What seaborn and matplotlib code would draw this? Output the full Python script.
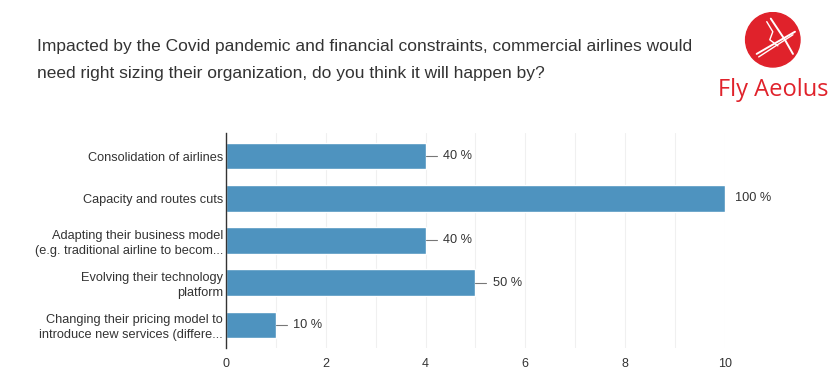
import numpy as np
import pandas as pd
import matplotlib.pyplot as plt
import seaborn as sns
from matplotlib.patches import Circle

categories = [
    "Consolidation of airlines",
    "Capacity and routes cuts",
    "Adapting their business model\n(e.g. traditional airline to becom...",
    "Evolving their technology\nplatform",
    "Changing their pricing model to\nintroduce new services (differe...",
]
counts = [4, 10, 4, 5, 1]
percents = [40, 100, 40, 50, 10]

title = ("Impacted by the Covid pandemic and financial constraints, commercial airlines would\n"
         "need right sizing their organization, do you think it will happen by?")

sns.set_theme(style="white")
plt.rcParams["font.family"] = ["Liberation Sans", "DejaVu Sans"]

df = pd.DataFrame({"option": categories, "count": counts})

fig = plt.figure(figsize=(8.4, 3.79), dpi=100)
ax = fig.add_axes([0.269, 0.082, 0.594, 0.567])

sns.barplot(data=df, x="count", y="option", color="#4E93BF", saturation=1,
            width=0.63, ax=ax, zorder=3)

ax.set_xlim(0, 10)
ax.set_xticks(range(0, 11, 2))
ax.set_xticks(range(0, 11), minor=True)
ax.grid(axis="x", which="both", color="#f0f0f0", linewidth=0.8, zorder=0)
ax.set_xlabel("")
ax.set_ylabel("")
for side in ["top", "right", "bottom"]:
    ax.spines[side].set_visible(False)
ax.spines["left"].set_color("#333333")
ax.spines["left"].set_linewidth(1.0)
ax.spines["left"].set_zorder(5)
ax.tick_params(axis="both", which="both", length=0, labelsize=9, colors="#333333")
ax.tick_params(axis="x", pad=7)
ax.tick_params(axis="y", pad=2)
for lab in ax.get_yticklabels():
    lab.set_multialignment("right")
    lab.set_linespacing(1.3)
    lab.set_fontsize(9.2)

for i, (c, p) in enumerate(zip(counts, percents)):
    if c < 10:
        ax.plot([c, c + 0.22], [i, i], color="#777777", linewidth=0.8,
                clip_on=False, zorder=4)
        ax.text(c + 0.35, i, f"{p} %", va="center", ha="left", fontsize=9.2,
                color="#333333")
    else:
        ax.text(c + 0.2, i, f"{p} %", va="center", ha="left", fontsize=9.2,
                color="#333333")

fig.text(37 / 840, 1 - 39 / 379, title, ha="left", va="top", fontsize=12.5,
         color="#333333", linespacing=2.0)

# logo
lax = fig.add_axes([0.86, 0.7015, 0.12, 0.27])
lax.set_xlim(0, 1)
lax.set_ylim(0, 1)
lax.set_aspect("equal")
lax.axis("off")
lax.add_patch(Circle((0.5, 0.72), 0.27, color="#E0222B"))
lax.plot([0.34, 0.72], [0.58, 0.8], color="white", linewidth=1.4)
lax.plot([0.36, 0.7], [0.55, 0.77], color="white", linewidth=1.0)
lax.plot([0.48, 0.62, 0.7], [0.93, 0.72, 0.58], color="white", linewidth=1.4)
lax.plot([0.44, 0.5, 0.47, 0.55], [0.9, 0.8, 0.72, 0.66], color="white", linewidth=1.0)
lax.text(0.5, 0.22, "Fly Aeolus", ha="center", va="center", fontsize=17,
         color="#E0222B", fontweight="medium", family=["Open Sans", "DejaVu Sans"])

fig.savefig("out.png", dpi=100, facecolor="white")
